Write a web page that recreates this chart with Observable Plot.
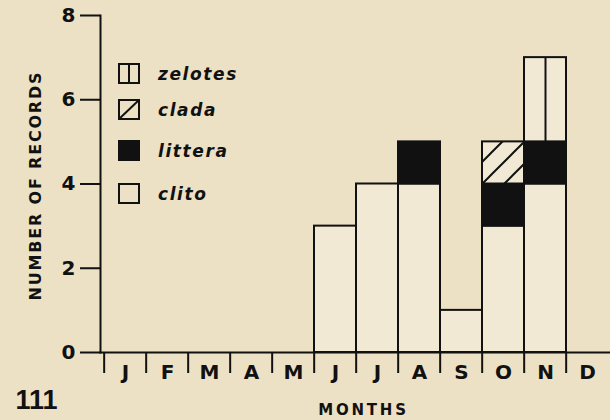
<!DOCTYPE html>
<html><head><meta charset="utf-8">
<script src="https://cdn.jsdelivr.net/npm/d3@7"></script>
<script src="https://cdn.jsdelivr.net/npm/@observablehq/plot@0.6"></script>
<style>
html,body{margin:0;padding:0;background:#ece1c5;}
#wrap{position:relative;width:610px;height:420px;overflow:hidden;}
#legend{position:absolute;left:0;top:0;font:italic bold 17px "DejaVu Sans",sans-serif;letter-spacing:1.6px;color:#111;}
.row{position:absolute;left:118px;display:flex;align-items:center;height:21px;white-space:nowrap;}
.row svg{display:block;margin-right:18px;}
</style>
</head><body>
<div id="wrap"><div id="legend"></div></div>
<script>
// ---- data ----
const monthIds = ["Jan","Feb","Mar","Apr","May","Jun","Jul","Aug","Sep","Oct","Nov","Dec"];
const species = ["clito","littera","clada","zelotes"];
const clito   = [0,0,0,0,0,3,4,4,1,3,4,0];
const littera = [0,0,0,0,0,0,0,1,0,1,1,0];
const clada   = [0,0,0,0,0,0,0,0,0,1,0,0];
const zelotes = [0,0,0,0,0,0,0,0,0,0,2,0];
const yTicks = [0,2,4,6,8];
const legendOrder = ["zelotes","clada","littera","clito"];

// ---- styles ----
const ink = "#111";
const barFill = "#f1e9d4";
const fills = [barFill, ink, "url(#pat-clada)", barFill];
const xRange = [100, 612];
const bw = (xRange[1] - xRange[0]) / monthIds.length;

const seriesValues = {clito, littera, clada, zelotes};
const data = [];
species.forEach(s => seriesValues[s].forEach((v, i) => { if (v > 0) data.push({month: monthIds[i], species: s, value: v}); }));

const plot = Plot.plot({
  width: 610, height: 420,
  marginLeft: 100, marginRight: 0, marginTop: 15, marginBottom: 68,
  style: {background: "transparent", color: ink, fontFamily: "'DejaVu Sans', sans-serif", fontWeight: "bold", overflow: "visible"},
  x: {type: "band", domain: monthIds, range: xRange, padding: 0},
  y: {domain: [0, 8]},
  color: {domain: species, range: fills},
  opacity: {type: "identity"},
  marks: [
    Plot.barY(data, {x: "month", y: "value", fill: "species", stroke: ink, strokeWidth: 2}),
    // vertical divider line of the "zelotes" pattern
    Plot.ruleX(data, Plot.stackY({x: "month", y: "value", stroke: ink, strokeWidth: 2,
      strokeOpacity: d => d.species === "zelotes" ? 1 : 0})),
    Plot.frame({anchor: "left", stroke: ink, strokeWidth: 2}),
    Plot.frame({anchor: "bottom", stroke: ink, strokeWidth: 2}),
    Plot.axisY({ticks: yTicks, tickSize: 20, tickPadding: 5, fontSize: 20, strokeWidth: 2, label: null, tickFormat: d => String(d)}),
    Plot.axisX({tickSize: 21, tickFormat: () => "", dx: -bw / 2, strokeWidth: 2, label: null}),
    Plot.axisX({tickSize: 0, tickPadding: 12, tickFormat: d => d[0], fontSize: 20, label: null}),
    Plot.text(["NUMBER OF RECORDS"], {frameAnchor: "left", textAnchor: "middle", lineAnchor: "middle", rotate: -90, dx: -64.5, dy: 1.5, fontSize: 16, fontWeight: "bold", fill: ink}),
    Plot.text(["MONTHS"], {frameAnchor: "bottom", textAnchor: "middle", dx: 8, dy: 62, lineAnchor: "bottom", fontSize: 15, fontWeight: "bold", fill: ink}),
    Plot.text(["111"], {frameAnchor: "bottom-left", dx: -85, dy: 56, lineAnchor: "bottom", textAnchor: "start", fontSize: 27, fontWeight: "bold", fontFamily: "'Liberation Sans', Arial, sans-serif", fill: ink})
  ]
});

// hatch pattern for "clada"
const defs = document.createElementNS("http://www.w3.org/2000/svg", "defs");
defs.innerHTML = `
<pattern id="pat-clada" patternUnits="userSpaceOnUse" x="6" y="0" width="22" height="22">
  <rect width="22" height="22" fill="${barFill}"/>
  <path d="M-2,24 L24,-2 M-3,3 L3,-3 M19,25 L25,19" stroke="${ink}" stroke-width="2"/>
</pattern>`;
plot.insertBefore(defs, plot.firstChild);

d3.select(plot).selectAll("text").filter(function(){ return this.textContent === "NUMBER OF RECORDS"; }).attr("letter-spacing", 1.8);
d3.select(plot).selectAll("text").filter(function(){ return this.textContent === "MONTHS"; }).attr("letter-spacing", 2.8);

const wrap = document.getElementById("wrap");
wrap.insertBefore(plot, wrap.firstChild);
plot.style.position = "absolute"; plot.style.left = "0"; plot.style.top = "0";

// legend
const legendTops = {zelotes: 63, clada: 99, littera: 140, clito: 183};
const swatch = {
  zelotes: `<rect x="1" y="1" width="20" height="19" fill="none" stroke="${ink}" stroke-width="2"/><line x1="11" x2="11" y1="1" y2="20" stroke="${ink}" stroke-width="2"/>`,
  clada: `<rect x="1" y="1" width="20" height="19" fill="none" stroke="${ink}" stroke-width="2"/><line x1="1" y1="20" x2="21" y2="1" stroke="${ink}" stroke-width="2"/>`,
  littera: `<rect x="1" y="1" width="20" height="19" fill="${ink}" stroke="${ink}" stroke-width="2"/>`,
  clito: `<rect x="1" y="1" width="20" height="19" fill="none" stroke="${ink}" stroke-width="2"/>`
};
const legend = document.getElementById("legend");
legendOrder.forEach(s => {
  const row = document.createElement("div");
  row.className = "row";
  row.style.top = legendTops[s] + "px";
  row.innerHTML = `<svg width="22" height="21">${swatch[s]}</svg><span>${s}</span>`;
  legend.appendChild(row);
});
</script>
</body></html>
